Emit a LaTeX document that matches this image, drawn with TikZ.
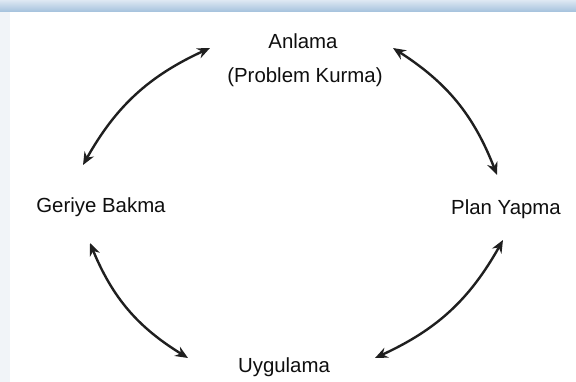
\documentclass[tikz,border=0pt]{standalone}
\usepackage{fontspec}
\setmainfont{Liberation Sans}
\usetikzlibrary{arrows.meta}
\definecolor{bandtop}{RGB}{222,232,243}
\definecolor{bandbot}{RGB}{168,196,222}
\definecolor{sidestrip}{RGB}{241,244,248}
\definecolor{txt}{RGB}{15,15,15}
\tikzset{
  lbl/.style={anchor=base, inner sep=0pt, text=txt, font=\fontsize{15.3}{18}\selectfont},
  cyc/.style={line width=1.8pt, draw=black!88, {Stealth[length=9.5pt,width=8pt]}-{Stealth[length=9.5pt,width=8pt]}}
}
\begin{document}
\begin{tikzpicture}[x=0.75pt,y=-0.75pt]
\useasboundingbox (0,0) rectangle (576,382);
\fill[white] (0,0) rectangle (576,382);
\fill[sidestrip] (0,11) rectangle (10,382);
\shade[top color=bandtop, bottom color=bandbot] (0,0) rectangle (576,11);

\node[lbl] (anl) at (303,49) {Anlama};
\node[lbl] (pk) at (305,82) {(Problem Kurma)};
\node[lbl] (gb) at (101,212) {Geriye Bakma};
\node[lbl] (py) at (506,214) {Plan Yapma};
\node[lbl] (uy) at (284,372) {Uygulama};

\coordinate (tl1) at (210,48);
\coordinate (tl2) at (83,165);
\coordinate (tr1) at (393,48);
\coordinate (tr2) at (497,175);
\coordinate (bl1) at (90,243);
\coordinate (bl2) at (188,358);
\coordinate (br1) at (503,240);
\coordinate (br2) at (375,358);

\draw[cyc] (tl1) to[bend right=18] (tl2);
\draw[cyc] (tr1) to[bend left=18] (tr2);
\draw[cyc] (bl1) to[bend right=18] (bl2);
\draw[cyc] (br1) to[bend left=18] (br2);
\end{tikzpicture}
\end{document}
